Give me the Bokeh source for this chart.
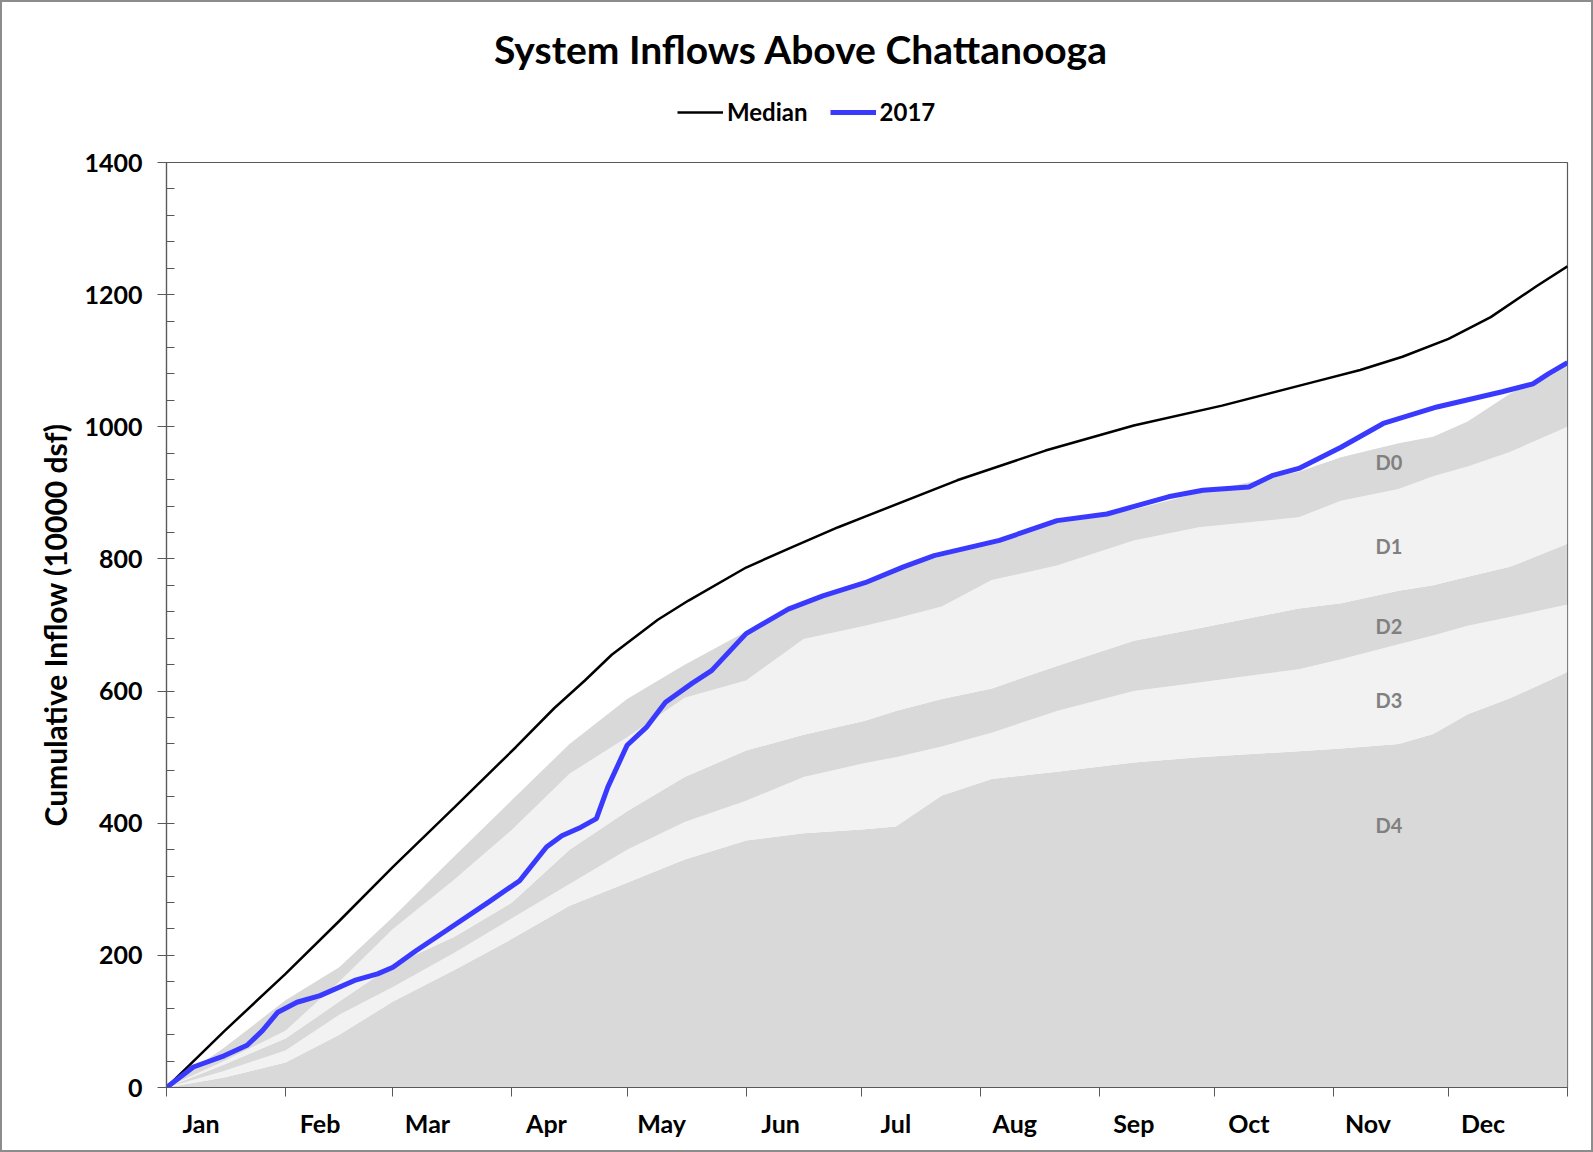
from bokeh.plotting import figure
from bokeh.layouts import column
from bokeh.models import FixedTicker, Legend, LegendItem, Range1d, ColumnDataSource, Label
from bokeh.core.properties import value
from bokeh.embed import file_html
from bokeh.resources import INLINE

FONT = "Lato"

months = ["Jan", "Feb", "Mar", "Apr", "May", "Jun", "Jul", "Aug", "Sep", "Oct", "Nov", "Dec"]
month_start = [0, 31, 59, 90, 120, 151, 181, 212, 243, 273, 304, 334, 365]

median_days = [0, 15, 31, 45, 59, 75, 91, 101, 109, 116, 128, 136, 151, 163, 175, 182,
               206, 229, 252, 275, 299, 311, 322, 334, 345, 357, 365]
median_vals = [0, 85, 172, 252, 334, 424, 515, 574, 616, 655, 708, 737, 787, 818, 848, 864,
               919, 964, 1002, 1032, 1068, 1086, 1106, 1133, 1166, 1213, 1243]

y2017_days = [0, 7, 15, 21, 25, 29, 34, 40, 49, 55, 59, 65, 73, 84, 92, 99, 103, 108, 112, 115,
              120, 125, 130, 137, 142, 151, 162, 171, 182, 192, 200, 217, 232, 245, 261, 270,
              282, 288, 295, 306, 317, 331, 348, 356, 360, 365]
y2017_vals = [0, 31, 48, 64, 86, 114, 129, 139, 162, 172, 182, 207, 238, 281, 313, 364, 381, 394, 407, 455,
              518, 545, 583, 612, 631, 687, 724, 744, 764, 788, 805, 828, 858, 868, 894, 904,
              909, 926, 937, 969, 1005, 1030, 1053, 1065, 1080, 1097]

band_days = [0, 15, 31, 45, 59, 75, 90, 105, 120, 135, 151, 166, 182, 190, 202, 215, 232, 252,
             269, 295, 306, 321, 330, 339, 350, 365]
d4_top = [0, 15, 38, 80, 130, 178, 225, 275, 310, 345, 374, 385, 391, 395, 442, 467, 478, 492,
          500, 509, 513, 520, 535, 565, 589, 629]
d3_top = [0, 25, 56, 110, 152, 204, 256, 308, 360, 402, 434, 470, 491, 500, 516, 537, 570, 600,
          613, 633, 648, 671, 684, 699, 712, 731]
d2_top = [0, 35, 74, 130, 185, 228, 280, 360, 418, 470, 510, 534, 555, 570, 588, 604, 638, 676,
          695, 725, 733, 752, 760, 773, 788, 823]
d1_top = [0, 40, 86, 160, 240, 315, 390, 475, 530, 590, 616, 679, 699, 710, 728, 768, 790, 828,
          848, 863, 888, 906, 925, 940, 962, 1000]
d0_top = [0, 60, 132, 182, 258, 350, 435, 520, 588, 640, 690, 732, 760, 783, 804, 824, 856, 875,
          900, 932, 954, 975, 985, 1008, 1050, 1095]

band_names = ["D0", "D1", "D2", "D3", "D4"]
band_label_day = 318.5
band_label_vals = [947, 819, 699, 587, 398]

y_major = list(range(0, 1401, 200))
y_minor = list(range(0, 1401, 40))

MED_COLOR = "black"
Y17_COLOR = "#3a3aff"
NAN = float("nan")

W = 1593
TOTAL_H = 1152
HEAD_H = 148
FRAME_L = 166
FRAME_R = 1567

# ---------- header (title + legend); its frame gets aligned with the chart frame ----------
head = figure(width=W, height=HEAD_H, x_range=Range1d(FRAME_L, FRAME_R), y_range=Range1d(HEAD_H, 0),
              output_backend="svg", toolbar_location=None, x_axis_type=None, y_axis_type=None,
              min_border=0)
head.xgrid.visible = False
head.ygrid.visible = False
head.outline_line_color = None
head.background_fill_alpha = 0
head.border_fill_alpha = 0

title = Label(x=800.6, y=48, text="System Inflows Above Chattanooga", text_font=FONT,
              text_font_style="bold", text_font_size="39px", text_align="center",
              text_baseline="middle", text_color="black")
head.add_layout(title)

lg_med = head.line([NAN], [NAN], line_color=MED_COLOR, line_width=2.5)
lg_17 = head.line([NAN], [NAN], line_color=Y17_COLOR, line_width=5)
legend = Legend(items=[LegendItem(label="Median", renderers=[lg_med]),
                       LegendItem(label="2017", renderers=[lg_17])],
                orientation="horizontal", location=(677 - FRAME_L, 22), padding=0, margin=0,
                spacing=22, label_standoff=4, glyph_width=46, glyph_height=20,
                background_fill_alpha=0, border_line_color=None,
                label_text_font=FONT, label_text_font_style="bold", label_text_font_size="24px",
                label_text_color="black")
head.add_layout(legend)

# ---------- main chart ----------
p = figure(width=W, height=TOTAL_H - HEAD_H, x_range=Range1d(0, 365), y_range=Range1d(0, 1400),
           output_backend="svg", toolbar_location=None,
           min_border_left=FRAME_L, min_border_right=W - FRAME_R, min_border_top=14,
           min_border_bottom=65)
p.xgrid.visible = False
p.ygrid.visible = False
p.outline_line_color = "#595959"
p.outline_line_width = 1.2
p.background_fill_color = "white"
p.border_fill_alpha = 0

dark = "#d9d9d9"
light = "#f2f2f2"
p.varea(x=band_days, y1=[0] * len(band_days), y2=d4_top, fill_color=dark)
p.varea(x=band_days, y1=d4_top, y2=d3_top, fill_color=light)
p.varea(x=band_days, y1=d3_top, y2=d2_top, fill_color=dark)
p.varea(x=band_days, y1=d2_top, y2=d1_top, fill_color=light)
p.varea(x=band_days, y1=d1_top, y2=d0_top, fill_color=dark)

p.line(median_days, median_vals, line_color=MED_COLOR, line_width=2.5)
p.line(y2017_days, y2017_vals, line_color=Y17_COLOR, line_width=5)

src = ColumnDataSource(dict(x=[band_label_day] * 5, y=band_label_vals, t=band_names))
p.text(x="x", y="y", text="t", source=src, text_font=value(FONT), text_font_style="bold",
       text_font_size="20px", text_color="#808080", text_align="center", text_baseline="middle")

label_ticks = [s + 9 for s in month_start[:12]]
xa = p.xaxis[0]
xa.ticker = FixedTicker(ticks=label_ticks, minor_ticks=month_start)
xa.major_label_overrides = {t: m for t, m in zip(label_ticks, months)}
xa.major_tick_in = 0
xa.major_tick_out = 0
xa.minor_tick_in = 0
xa.minor_tick_out = 9
xa.minor_tick_line_color = "#595959"
xa.axis_line_color = "#595959"
xa.axis_line_width = 1.2
xa.major_label_standoff = 11
xa.major_label_text_font = FONT
xa.major_label_text_font_style = "bold"
xa.major_label_text_font_size = "25px"
xa.major_label_text_color = "black"

ya = p.yaxis[0]
ya.ticker = FixedTicker(ticks=y_major, minor_ticks=y_minor)
ya.major_tick_in = 0
ya.major_tick_out = 9
ya.minor_tick_in = 8
ya.minor_tick_out = 0
ya.major_tick_line_color = "#595959"
ya.minor_tick_line_color = "#595959"
ya.axis_line_color = "#595959"
ya.axis_line_width = 1.2
ya.major_label_standoff = 15
ya.major_label_text_font = FONT
ya.major_label_text_font_style = "bold"
ya.major_label_text_font_size = "25px"
ya.major_label_text_color = "black"
ya.axis_label = "Cumulative Inflow (10000 dsf)"
ya.axis_label_text_font = FONT
ya.axis_label_text_font_style = "bold"
ya.axis_label_text_font_size = "30px"
ya.axis_label_text_color = "black"
ya.axis_label_standoff = 8

layout = column(head, p, spacing=0, width=W, height=TOTAL_H,
                styles={"box-shadow": "inset 0 0 0 2px #8c8c8c", "background-color": "white"})

open("out.html", "w").write(file_html(layout, INLINE))
